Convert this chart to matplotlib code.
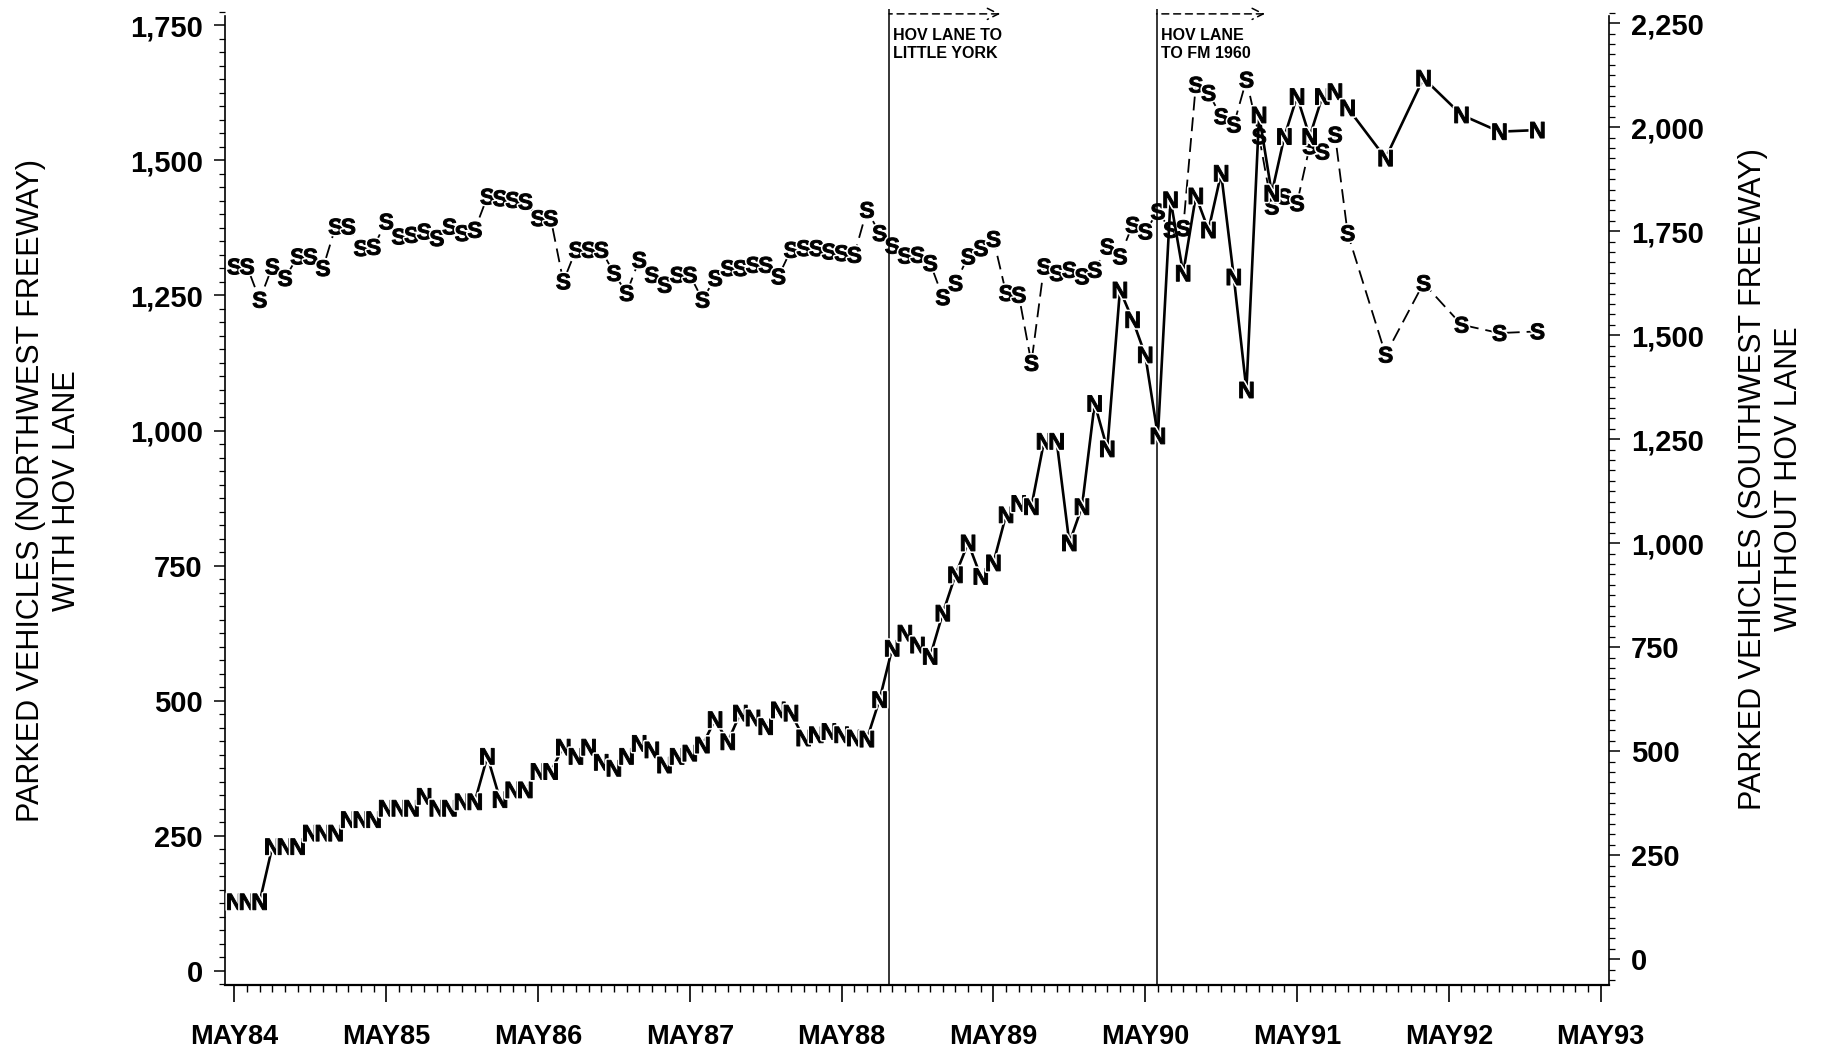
import matplotlib
matplotlib.use('Agg')
import matplotlib.pyplot as plt
from matplotlib.ticker import MultipleLocator, FuncFormatter, FixedLocator
import matplotlib.patheffects as pe
import matplotlib.transforms as mtransforms

plt.rcParams['font.family'] = ['Liberation Sans', 'DejaVu Sans']
plt.rcParams['mathtext.fontset'] = 'custom'
plt.rcParams['mathtext.bf'] = 'Liberation Sans:bold'
plt.rcParams['mathtext.rm'] = 'Liberation Sans'
plt.rcParams['lines.scale_dashes'] = False

# ---- data (month index: 0 = May 1984) ----
months = list(range(0, 89)) + [91, 94, 97, 100, 103]

northwest = [128, 128, 128, 230, 230, 230, 255, 255, 255, 280, 280, 280,
             301, 301, 301, 323, 301, 301, 313, 313,
             397, 317, 335, 335, 369, 369,
             414, 397, 414, 386, 375,
             397, 421, 409, 381, 397, 403, 418, 465, 424, 477,
             468, 452, 483, 477, 431, 437, 443, 437, 431, 429,
             502, 597, 625, 603, 582, 662, 733, 792, 730, 755,
             844, 865, 859, 980, 980, 792, 859, 1050, 966, 1260,
             1205, 1140, 990, 1427, 1291, 1434, 1371, 1476, 1284, 1075,
             1584, 1439, 1544, 1618, 1544, 1618, 1627, 1597,
             1504, 1652, 1584, 1553, 1556]

southwest = [1665, 1665, 1585, 1665, 1637, 1689, 1689, 1661, 1761, 1761,
             1709, 1712, 1773, 1737, 1741, 1749, 1733, 1761, 1745, 1753,
             1833, 1829, 1825, 1821, 1781, 1781, 1629, 1705, 1705, 1705,
             1649, 1601, 1681, 1645, 1621, 1645, 1645, 1585, 1637, 1661,
             1661, 1669, 1669, 1641, 1705, 1709, 1709, 1701, 1697, 1693,
             1801, 1745, 1715, 1691, 1693, 1673, 1591, 1625, 1689, 1709,
             1731, 1601, 1597, 1433, 1665, 1649, 1657, 1641, 1657, 1713,
             1689, 1765, 1749, 1797, 1753, 1757, 2102, 2082, 2026, 2006,
             2114, 1978, 1809, 1833, 1817, 1954, 1941, 1982, 1745,
             1453, 1625, 1525, 1505, 1509]

x_tick_months = [0, 12, 24, 36, 48, 60, 72, 84, 96, 108]
x_tick_labels = ['MAY84', 'MAY85', 'MAY86', 'MAY87', 'MAY88',
                 'MAY89', 'MAY90', 'MAY91', 'MAY92', 'MAY93']

event_months = [51.75, 72.9]
event_labels = ['HOV LANE TO\nLITTLE YORK', 'HOV LANE\nTO FM 1960']
event_arrow_pts = [80, 78]

left_label = 'PARKED VEHICLES (NORTHWEST FREEWAY)\nWITH HOV LANE'
right_label = 'PARKED VEHICLES (SOUTHWEST FREEWAY)\nWITHOUT HOV LANE'

# ---- figure ----
fig = plt.figure(figsize=(18.28, 10.59), dpi=100)
ax = fig.add_axes([0.1231, 0.0699, 0.7571, 0.9216])
ax2 = ax.twinx()

ax.set_xlim(-0.74, 108.66)
ax.set_ylim(-26, 1780)
ax2.set_ylim(-62, 2284)

halo = [pe.withStroke(linewidth=3, foreground='white')]

# Southwest (dashed, right axis)
ax2.plot(months, southwest, color='black', lw=1.3, dashes=(10, 5), zorder=2)
ax2.plot(months, southwest, ls='none', marker=r'$\mathbf{S}$', ms=11.5,
         mew=0.7, color='black', path_effects=halo, zorder=3)

# Northwest (solid, left axis)
ax.plot(months, northwest, color='black', lw=1.9, zorder=2)
ax.plot(months, northwest, ls='none', marker=r'$\mathbf{N}$', ms=11.5,
        mew=0.7, color='black', path_effects=halo, zorder=3)

ax.set_zorder(ax2.get_zorder() + 1)
ax.patch.set_visible(False)

# event lines and annotations
blend = mtransforms.blended_transform_factory(ax.transData, ax.transAxes)
for m, lab, L in zip(event_months, event_labels, event_arrow_pts):
    ax.axvline(m, color='black', lw=1.1, zorder=1)
    ax.annotate('', xy=(m, 0.995), xycoords=blend,
                xytext=(L, 0), textcoords='offset points',
                arrowprops=dict(arrowstyle='<-', lw=1.1, ls=(0, (5, 3.5)),
                                shrinkA=0, shrinkB=0, color='black',
                                mutation_scale=20))
    ax.annotate(lab, xy=(m, 1.0), xycoords=blend, xytext=(3, -14),
                textcoords='offset points', ha='left', va='top',
                fontsize=11.5, fontweight='bold', linespacing=1.2)

# spines
for a in (ax, ax2):
    a.spines['top'].set_visible(False)
ax.spines['right'].set_visible(False)
ax2.spines['left'].set_visible(False)
ax2.spines['bottom'].set_visible(False)
ax.spines['left'].set_bounds(-26, 1767)
ax2.spines['right'].set_bounds(-62, 2267)
ax.spines['left'].set_linewidth(1.2)
ax2.spines['right'].set_linewidth(1.2)
ax.spines['bottom'].set_linewidth(1.6)

# x ticks
ax.xaxis.set_major_locator(FixedLocator(x_tick_months))
ax.set_xticklabels(x_tick_labels)
ax.xaxis.set_minor_locator(MultipleLocator(1))
ax.tick_params(axis='x', which='major', length=12, width=1.2, pad=16,
               labelsize=19.5)
ax.tick_params(axis='x', which='minor', length=5, width=1.0)

fmt = FuncFormatter(lambda v, p: f'{v:,.0f}')
ax.yaxis.set_major_locator(MultipleLocator(250))
ax.yaxis.set_minor_locator(MultipleLocator(25))
ax.yaxis.set_major_formatter(fmt)
ax.tick_params(axis='y', which='major', length=8, width=1.1, pad=8,
               labelsize=21)
ax.tick_params(axis='y', which='minor', length=4, width=0.9)

ax2.yaxis.set_major_locator(MultipleLocator(250))
ax2.yaxis.set_minor_locator(MultipleLocator(25))
ax2.yaxis.set_major_formatter(fmt)
ax2.tick_params(axis='y', which='major', length=8, width=1.1, pad=8,
                labelsize=21)
ax2.tick_params(axis='y', which='minor', length=4, width=0.9)

for lab in ax.get_xticklabels() + ax.get_yticklabels() + ax2.get_yticklabels():
    lab.set_fontweight('bold')

fig.text(0.027, 0.537, left_label, rotation=90, ha='center', va='center',
         fontsize=22, multialignment='center', linespacing=1.25)
fig.text(0.969, 0.548, right_label, rotation=90, ha='center', va='center',
         fontsize=22, multialignment='center', linespacing=1.25)

fig.savefig('out.png', dpi=100, facecolor='white')
